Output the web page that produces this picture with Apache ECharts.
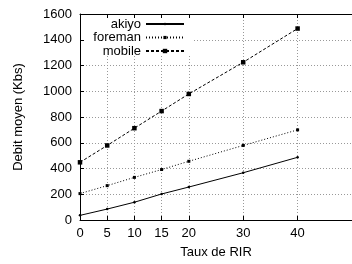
<!DOCTYPE html>
<html>
<head>
<meta charset="utf-8">
<script src="https://cdn.jsdelivr.net/npm/echarts@6/dist/echarts.min.js"></script>
<style>
  html, body { margin: 0; padding: 0; background: #fff; }
  #chart { width: 352px; height: 264px; }
</style>
</head>
<body>
<div id="chart"></div>
<script>
const rates = [0, 5, 10, 15, 20, 30, 40];
const akiyo = [36, 85, 138, 202, 256, 367, 487];
const foreman = [205, 267, 331, 392, 456, 579, 700];
const mobile = [448, 579, 713, 846, 979, 1225, 1487];
const xTicks = [0, 5, 10, 15, 20, 30, 40];

const font = "'Liberation Sans', Arial, sans-serif";
const fs = 13;
const toPairs = vals => rates.map((r, i) => [r, vals[i]]);

const chart = echarts.init(document.getElementById("chart"), null, { renderer: "canvas" });

const tickAxisX = {
    type: "value", min: 0, max: 50, z: 5,
    axisLine: { show: true, lineStyle: { color: "#000", width: 1 } },
    axisTick: { show: true, inside: true, length: 4, customValues: xTicks, lineStyle: { color: "#000" } },
    splitLine: { show: false }
};

const option = {
    animation: false,
    textStyle: { fontFamily: font },
    grid: { left: 80, top: 14, right: -8.5, bottom: 42, containLabel: false },
    xAxis: [
        Object.assign({}, tickAxisX, {
            position: "bottom",
            name: "Taux de RIR",
            nameLocation: "middle",
            nameGap: 26,
            nameTextStyle: { color: "#000", fontSize: fs, fontFamily: font },
            axisLabel: { customValues: xTicks, color: "#000", fontSize: fs, margin: 7, fontFamily: font }
        }),
        {
            type: "value", min: 0, max: 50, position: "bottom", z: 0,
            axisLine: { show: false },
            axisTick: { show: false, customValues: xTicks },
            axisLabel: { show: false, customValues: xTicks },
            splitLine: { show: true, lineStyle: { color: "#999", type: [1, 2], width: 1 } }
        },
        Object.assign({}, tickAxisX, {
            position: "top",
            axisLabel: { show: false }
        })
    ],
    yAxis: [
        {
            type: "value", min: 0, max: 1600, interval: 200, position: "left", z: 5,
            name: "Debit moyen (Kbs)",
            nameLocation: "middle",
            nameGap: 55,
            nameTextStyle: { color: "#000", fontSize: fs, fontFamily: font },
            axisLine: { show: true, lineStyle: { color: "#000", width: 1 } },
            axisTick: { show: true, inside: true, length: 4, lineStyle: { color: "#000" } },
            axisLabel: { color: "#000", fontSize: fs, margin: 8, fontFamily: font, formatter: v => String(v) },
            splitLine: { show: false }
        },
        {
            type: "value", min: 0, max: 1600, interval: 200, position: "left", z: 0,
            axisLine: { show: false },
            axisTick: { show: false },
            axisLabel: { show: false },
            splitLine: { show: true, lineStyle: { color: "#999", type: [1, 2], width: 1 } }
        }
    ],
    graphic: [
        {
            type: "rect", z: 3, silent: true,
            shape: { x: 81, y: 15, width: 111, height: 41 },
            style: { fill: "#fff" }
        }
    ],
    legend: [
        { name: "akiyo", top: 17.5, h: 3 },
        { name: "foreman", top: 31, h: 4 },
        { name: "mobile", top: 44.5, h: 5.5 }
    ].map(l => ({
        data: [l.name],
        orient: "vertical",
        align: "right",
        right: 167,
        top: l.top,
        padding: 0,
        itemWidth: 38,
        itemHeight: l.h,
        itemGap: 0,
        z: 4,
        textStyle: { color: "#000", fontSize: fs, fontFamily: font, padding: 0 }
    })),
    series: [
        {
            name: "akiyo", type: "line", data: toPairs(akiyo),
            symbol: "circle", symbolSize: 2.5, showSymbol: true,
            itemStyle: { color: "#000" },
            lineStyle: { color: "#000", width: 1, type: "solid" }
        },
        {
            name: "foreman", type: "line", data: toPairs(foreman),
            symbol: "rect", symbolSize: 3,
            itemStyle: { color: "#000" },
            lineStyle: { color: "#000", width: 1, type: [1, 2] }
        },
        {
            name: "mobile", type: "line", data: toPairs(mobile),
            symbol: "rect", symbolSize: 4.5,
            itemStyle: { color: "#000" },
            lineStyle: { color: "#000", width: 1, type: [3, 2] }
        }
    ]
};

chart.setOption(option);
</script>
</body>
</html>
